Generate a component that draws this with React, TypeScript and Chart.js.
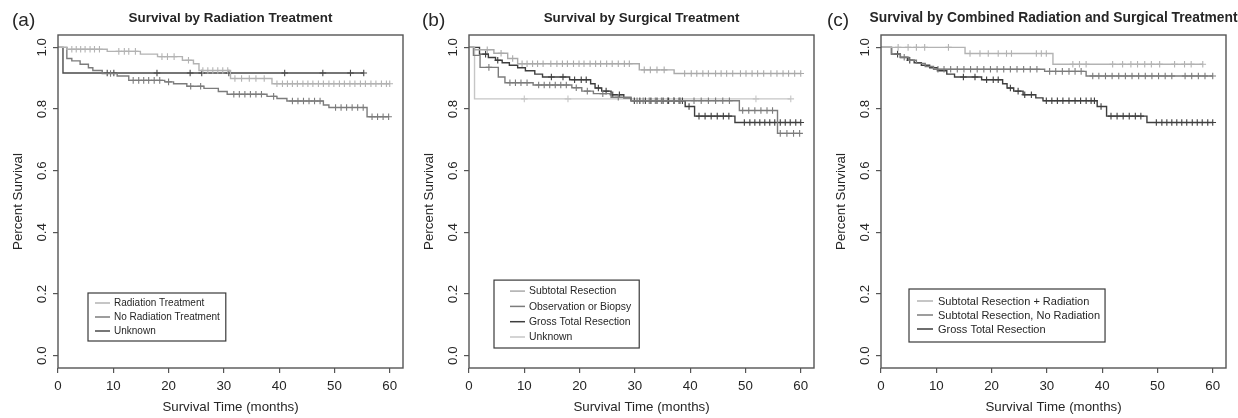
import React, { useEffect, useRef } from 'react';
import { Chart, registerables } from 'chart.js';

Chart.register(...registerables);

const FONT = '"Liberation Sans", Arial, Helvetica, sans-serif';
const TEXT = '#262626';
const FRAME = '#555555';

// Axis ticks (shared)
const xTicks = [0, 10, 20, 30, 40, 50, 60];
const yTicks = [0, 0.2, 0.4, 0.6, 0.8, 1.0];
const xAxisTitle = 'Survival Time (months)';
const yAxisTitle = 'Percent Survival';

// ---------- Panel (a): Survival by Radiation Treatment ----------
const radTimes = [0, 1.6, 8.9, 14.9, 18.0, 22.5, 24.5, 25.5, 31.2, 38.7];
const radSurv = [1, 0.994, 0.987, 0.978, 0.97, 0.958, 0.947, 0.925, 0.899, 0.882];
const radCensor = [2.5, 3.3, 4.1, 4.9, 5.8, 6.6, 7.5, 11.0, 12.0, 12.8, 14.0, 18.8, 19.8, 21.0, 23.6, 26.2, 27.1, 28.0, 28.9, 29.8, 30.7, 32.0, 33.2, 34.6, 35.8, 37.3, 39.6, 40.6, 41.5, 42.4, 43.3, 44.3, 45.2, 46.1, 47.1, 48.0, 49.0, 49.9, 50.9, 51.8, 52.8, 53.7, 54.7, 55.6, 56.6, 57.5, 58.5, 59.4, 60.0];

const noRadTimes = [0, 1.6, 2.5, 4.0, 5.5, 6.3, 8.0, 10.7, 12.8, 19.3, 20.9, 23.3, 26.4, 29.0, 30.6, 37.8, 39.6, 41.4, 48.0, 49.0, 55.9];
const noRadSurv = [1, 0.964, 0.956, 0.945, 0.934, 0.925, 0.915, 0.907, 0.893, 0.888, 0.882, 0.874, 0.867, 0.857, 0.848, 0.841, 0.834, 0.826, 0.813, 0.805, 0.775];
const noRadCensor = [9.5, 13.6, 14.6, 15.5, 16.4, 17.4, 18.4, 20.0, 24.0, 25.8, 31.8, 32.8, 33.8, 34.8, 35.8, 36.8, 39.0, 42.4, 43.4, 44.4, 45.4, 46.4, 47.4, 50.2, 51.2, 52.2, 53.2, 54.2, 55.2, 56.8, 57.8, 58.8, 59.8];

const unkATimes = [0, 0.9];
const unkASurv = [1, 0.917];
const unkACensor = [8.9, 10.1, 17.9, 23.9, 26.0, 30.9, 41.0, 47.9, 52.9, 55.3];

// ---------- Panel (b): Survival by Surgical Treatment ----------
const strTimes = [0, 1.0, 4.5, 7.0, 8.8, 30.8, 37.1];
const strSurv = [1, 0.992, 0.981, 0.964, 0.947, 0.927, 0.915];
const strCensor = [3.3, 5.8, 7.9, 9.6, 10.5, 11.5, 12.4, 13.4, 14.8, 15.9, 16.9, 17.8, 18.9, 19.9, 20.8, 21.9, 22.9, 23.8, 24.9, 25.9, 27.0, 28.1, 29.0, 31.7, 32.8, 34.0, 35.3, 39.0, 40.2, 41.2, 42.3, 43.3, 44.6, 45.6, 46.6, 47.7, 49.1, 50.1, 51.2, 52.2, 53.3, 54.6, 55.7, 56.8, 57.8, 58.9, 60.0];

const obsTimes = [0, 0.8, 2.0, 5.3, 6.5, 11.6, 18.6, 20.4, 22.5, 25.7, 29.3, 48.9, 55.8];
const obsSurv = [1, 0.974, 0.935, 0.904, 0.885, 0.878, 0.869, 0.858, 0.85, 0.838, 0.827, 0.795, 0.721];
const obsCensor = [3.6, 7.4, 8.4, 9.4, 10.5, 12.6, 13.6, 14.6, 15.6, 16.6, 17.6, 19.4, 21.4, 24.2, 27.0, 30.4, 31.5, 32.6, 33.7, 34.8, 35.9, 37.0, 38.2, 40.7, 42.0, 43.3, 44.6, 45.9, 47.1, 49.5, 50.6, 51.7, 52.8, 53.9, 54.9, 56.3, 57.5, 58.7, 59.8];

const gtrTimes = [0, 1.9, 3.5, 4.8, 6.0, 7.3, 8.8, 10.2, 11.9, 13.3, 18.2, 22.0, 22.8, 24.0, 25.7, 28.0, 29.3, 39.1, 40.8, 48.1];
const gtrSurv = [1, 0.978, 0.967, 0.958, 0.95, 0.942, 0.934, 0.924, 0.913, 0.904, 0.895, 0.882, 0.868, 0.858, 0.846, 0.836, 0.827, 0.808, 0.777, 0.756];
const gtrCensor = [3.0, 5.2, 14.9, 17.0, 19.1, 20.3, 21.2, 23.4, 24.8, 26.0, 27.2, 29.9, 30.9, 31.9, 32.9, 34.0, 35.1, 36.1, 37.1, 38.0, 38.6, 39.8, 41.6, 42.7, 43.8, 44.9, 46.0, 47.0, 49.8, 50.8, 51.7, 52.6, 53.5, 54.4, 55.3, 56.3, 57.2, 58.1, 59.1, 60.0];

const unkBTimes = [0, 1.0];
const unkBSurv = [1, 0.833];
const unkBCensor = [10.0, 17.9, 51.9, 58.2];

// ---------- Panel (c): Combined Radiation and Surgical Treatment ----------
const strRadTimes = [0, 15.2, 31.1];
const strRadSurv = [1, 0.98, 0.945];
const strRadCensor = [3.1, 4.9, 6.4, 7.9, 12.2, 16.1, 17.9, 19.4, 21.2, 22.7, 23.6, 28.1, 29.0, 29.9, 34.7, 35.9, 37.1, 41.9, 43.7, 45.2, 46.4, 47.7, 48.9, 50.4, 53.1, 54.9, 56.1, 58.2];

const strNoRadTimes = [0, 1.9, 3.5, 5.0, 6.4, 8.0, 9.5, 29.6, 37.1];
const strNoRadSurv = [1, 0.978, 0.968, 0.958, 0.948, 0.938, 0.929, 0.922, 0.907];
const strNoRadCensor = [4.2, 10.3, 11.4, 12.6, 13.8, 15.0, 16.2, 17.4, 18.6, 19.8, 21.0, 22.2, 23.4, 24.6, 25.8, 27.0, 28.2, 30.5, 31.6, 32.8, 34.0, 35.1, 36.2, 38.3, 39.4, 40.6, 41.8, 43.0, 44.2, 45.4, 46.6, 47.8, 49.0, 50.2, 51.4, 52.6, 55.0, 56.2, 57.4, 58.6, 60.0];

type Series = { label: string; color: string; times: number[]; surv: number[]; censor: number[] };

const panels: any[] = [
  {
    left: 0, width: 410, chartLeft: 58, chartRight: 403, tag: '(a)', tagX: 12, titleSize: 13.4,
    title: 'Survival by Radiation Treatment',
    legend: { dx: 30, dy: 27, rowH: 14, padTop: 10, padBottom: 10, lineX0: 7, lineX1: 22, textX: 26, padRight: 6, fontSize: 10 },
    series: [
      { label: 'Radiation Treatment', color: '#b3b3b3', times: radTimes, surv: radSurv, censor: radCensor },
      { label: 'No Radiation Treatment', color: '#7c7c7c', times: noRadTimes, surv: noRadSurv, censor: noRadCensor },
      { label: 'Unknown', color: '#4a4a4a', times: unkATimes, surv: unkASurv, censor: unkACensor },
    ] as Series[],
  },
  {
    left: 410, width: 410, chartLeft: 59, chartRight: 404, tag: '(b)', tagX: 12, titleSize: 13.4,
    title: 'Survival by Surgical Treatment',
    legend: { dx: 25, dy: 20, rowH: 15.3, padTop: 11, padBottom: 11, lineX0: 16, lineX1: 31, textX: 35, padRight: 8, fontSize: 10.4 },
    series: [
      { label: 'Subtotal Resection', color: '#aaaaaa', times: strTimes, surv: strSurv, censor: strCensor },
      { label: 'Observation or Biopsy', color: '#7c7c7c', times: obsTimes, surv: obsSurv, censor: obsCensor },
      { label: 'Gross Total Resection', color: '#3e3e3e', times: gtrTimes, surv: gtrSurv, censor: gtrCensor },
      { label: 'Unknown', color: '#c6c6c6', times: unkBTimes, surv: unkBSurv, censor: unkBCensor },
    ] as Series[],
  },
  {
    left: 820, width: 418, chartLeft: 61, chartRight: 406, tag: '(c)', tagX: 7, titleSize: 13.8,
    title: 'Survival by Combined Radiation and Surgical Treatment',
    legend: { dx: 28, dy: 26, rowH: 14, padTop: 12, padBottom: 13, lineX0: 8, lineX1: 24, textX: 29, padRight: 5, fontSize: 11 },
    series: [
      { label: 'Subtotal Resection + Radiation', color: '#b3b3b3', times: strRadTimes, surv: strRadSurv, censor: strRadCensor },
      { label: 'Subtotal Resection, No Radiation', color: '#7c7c7c', times: strNoRadTimes, surv: strNoRadSurv, censor: strNoRadCensor },
      { label: 'Gross Total Resection', color: '#3e3e3e', times: gtrTimes, surv: gtrSurv, censor: gtrCensor },
    ] as Series[],
  },
];

function survAt(times: number[], surv: number[], t: number) {
  let s = surv[0];
  for (let i = 0; i < times.length; i++) if (times[i] <= t) s = surv[i];
  return s;
}

function buildPoints(s: Series) {
  const pts: any[] = s.times.map((t, i) => ({ x: t, y: s.surv[i], c: false }));
  s.censor.forEach((t) => pts.push({ x: t, y: survAt(s.times, s.surv, t), c: true }));
  pts.sort((a, b) => a.x - b.x || (a.c ? 1 : 0) - (b.c ? 1 : 0));
  return pts;
}

const decorPlugin = {
  id: 'decor',
  afterDraw(chart: any) {
    const cfg = chart.options.plugins.decor;
    const { ctx, chartArea: a } = chart;
    ctx.save();
    // frame
    ctx.strokeStyle = FRAME;
    ctx.lineWidth = 1.4;
    ctx.strokeRect(a.left, a.top, a.right - a.left, a.bottom - a.top);
    // panel tag
    ctx.fillStyle = TEXT;
    ctx.font = `19px ${FONT}`;
    ctx.textAlign = 'left';
    ctx.textBaseline = 'middle';
    ctx.fillText(cfg.tag, cfg.tagX, 21);
    // title
    ctx.font = `bold ${cfg.titleSize}px ${FONT}`;
    ctx.textAlign = 'center';
    ctx.fillText(cfg.title, (a.left + a.right) / 2, 18);
    // legend
    const lg = cfg.legend;
    const series: Series[] = cfg.series;
    ctx.font = `${lg.fontSize}px ${FONT}`;
    const maxW = Math.max(...series.map((s) => ctx.measureText(s.label).width));
    const L = a.left + lg.dx;
    const W = lg.textX + maxW + lg.padRight;
    const H = lg.padTop + (series.length - 1) * lg.rowH + lg.padBottom;
    const B = a.bottom - lg.dy;
    const T = B - H;
    ctx.fillStyle = '#ffffff';
    ctx.fillRect(L, T, W, H);
    ctx.strokeStyle = '#3a3a3a';
    ctx.lineWidth = 1.2;
    ctx.strokeRect(L, T, W, H);
    ctx.textAlign = 'left';
    ctx.textBaseline = 'middle';
    series.forEach((s, i) => {
      const y = T + lg.padTop + i * lg.rowH;
      ctx.strokeStyle = s.color;
      ctx.lineWidth = 1.5;
      ctx.beginPath();
      ctx.moveTo(L + lg.lineX0, y);
      ctx.lineTo(L + lg.lineX1, y);
      ctx.stroke();
      ctx.fillStyle = TEXT;
      ctx.fillText(s.label, L + lg.textX, y + 0.5);
    });
    ctx.restore();
  },
};

function Panel({ cfg }: { cfg: any }) {
  const ref = useRef<HTMLCanvasElement>(null);
  useEffect(() => {
    const canvas = ref.current!;
    const axisFont = { family: FONT, size: 13.3 };
    const chart = new Chart(canvas, {
      type: 'scatter',
      data: {
        datasets: cfg.series.map((s: Series) => ({
          label: s.label,
          data: buildPoints(s),
          showLine: true,
          stepped: 'before',
          borderColor: s.color,
          borderWidth: 1.4,
          fill: false,
          pointStyle: 'cross',
          pointRadius: (c: any) => (c.raw && c.raw.c ? 3.3 : 0),
          pointHoverRadius: 0,
          pointBorderColor: s.color,
          pointBackgroundColor: s.color,
          pointBorderWidth: 1.1,
        })),
      },
      options: {
        responsive: false,
        animation: false,
        devicePixelRatio: 1,
        events: [],
        layout: { padding: { top: 35, right: cfg.width - cfg.chartRight, left: 0, bottom: 0 } },
        plugins: {
          legend: { display: false },
          tooltip: { enabled: false },
          title: { display: false },
          decor: cfg,
        } as any,
        scales: {
          x: {
            type: 'linear',
            min: 0,
            max: 62.4,
            afterBuildTicks: (sc: any) => {
              sc.ticks = xTicks.map((v) => ({ value: v }));
            },
            afterFit: (sc: any) => {
              sc.height = 50;
            },
            border: { display: false },
            grid: { drawOnChartArea: false, drawTicks: true, tickLength: 5, color: FRAME, lineWidth: 1.2 },
            ticks: { font: axisFont, color: TEXT, padding: 5, maxRotation: 0, autoSkip: false, callback: (v: any) => String(v) },
            title: { display: true, text: xAxisTitle, font: axisFont, color: TEXT, padding: { top: 0, bottom: 3 } },
          },
          y: {
            type: 'linear',
            min: -0.04,
            max: 1.04,
            afterBuildTicks: (sc: any) => {
              sc.ticks = yTicks.map((v) => ({ value: v }));
            },
            afterFit: (sc: any) => {
              sc.width = cfg.chartLeft;
            },
            border: { display: false },
            grid: { drawOnChartArea: false, drawTicks: true, tickLength: 5, color: FRAME, lineWidth: 1.2 },
            ticks: {
              font: axisFont,
              color: TEXT,
              padding: 1,
              minRotation: 90,
              maxRotation: 90,
              crossAlign: 'center',
              autoSkip: false,
              callback: (v: any) => Number(v).toFixed(1),
            },
            title: { display: true, text: yAxisTitle, font: axisFont, color: TEXT, padding: { top: cfg.chartLeft - 48, bottom: 0 } },
          },
        },
      } as any,
      plugins: [decorPlugin],
    });
    return () => chart.destroy();
  }, []);
  return (
    <canvas
      ref={ref}
      width={cfg.width}
      height={418}
      style={{ position: 'absolute', left: cfg.left, top: 0, width: cfg.width, height: 418 }}
    />
  );
}

export default function App() {
  return (
    <div style={{ position: 'absolute', left: 0, top: 0, width: 1238, height: 418, background: '#ffffff', overflow: 'hidden' }}>
      {panels.map((p, i) => (
        <Panel key={i} cfg={p} />
      ))}
    </div>
  );
}
